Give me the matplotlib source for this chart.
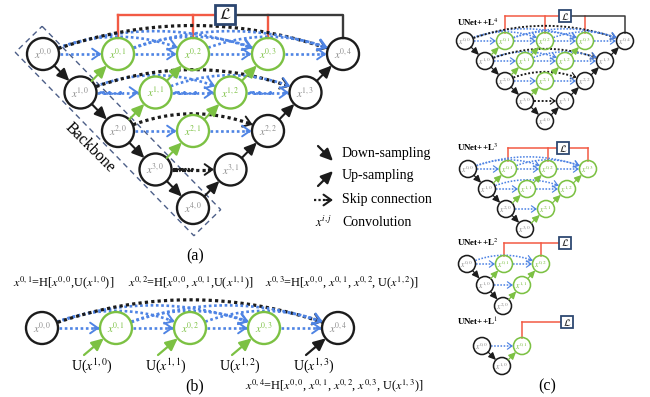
import matplotlib
matplotlib.use("Agg")
import matplotlib.pyplot as plt
from matplotlib.patches import Circle, Rectangle, Polygon, FancyArrowPatch
import numpy as np

plt.rcParams['font.family'] = ['Liberation Serif', 'DejaVu Serif']
plt.rcParams['mathtext.fontset'] = 'stix'

BLACK = '#1c1c1c'
GREEN = '#7cc143'
BLUE = '#4f84e4'
RED = '#f25a44'
NAVY = '#2c4670'
GREY = '#8c8c8c'
DARK = '#3a3a3a'

# ---- data ----
mini_depths = [4, 3, 2, 1]
mini_titles = ['UNet++L$^4$', 'UNet++L$^3$', 'UNet++L$^2$', 'UNet++L$^1$']
legend_labels = ['Down-sampling', 'Up-sampling', 'Skip connection', 'Convolution']
eq_top = [r'$x^{0,1}$=H[$x^{0,0}$,U($x^{1,0}$)]',
          r'$x^{0,2}$=H[$x^{0,0}$, $x^{0,1}$,U($x^{1,1}$)]',
          r'$x^{0,3}$=H[$x^{0,0}$, $x^{0,1}$, $x^{0,2}$, U($x^{1,2}$)]']
eq_bottom = r'$x^{0,4}$=H[$x^{0,0}$, $x^{0,1}$, $x^{0,2}$, $x^{0,3}$, U($x^{1,3}$)]'
u_labels = [r'U($x^{1,0}$)', r'U($x^{1,1}$)', r'U($x^{1,2}$)', r'U($x^{1,3}$)']
panel_labels = ['(a)', '(b)', '(c)']

# layouts (pixel space)
main = dict(x0=43, y0=54, dxi=37.5, dxj=75, dy=38.5, r=16, box_j=2.43, box_y=14.5,
            box_w=20, box_h=19, s=1.0, fs=8)
minis = [dict(x0=465, y0=41, dxi=20, dxj=40, dy=20, r=8.5, box_j=2.5, box_y=16, box_w=12, box_h=12, s=0.6, fs=5.5),
         dict(x0=468, y0=169, dxi=19, dxj=40, dy=20, r=8.5, box_j=2.38, box_y=148, box_w=12, box_h=12, s=0.6, fs=5.5),
         dict(x0=467, y0=264, dxi=18, dxj=37, dy=21, r=8.5, box_j=2.65, box_y=243, box_w=12, box_h=12, s=0.6, fs=5.5),
         dict(x0=482, y0=346, dxi=20, dxj=40, dy=20, r=8.5, box_j=2.12, box_y=322, box_w=12, box_h=12, s=0.6, fs=5.5)]
mini_title_y = [22, 147, 242, 322]
row_b = dict(x0=42, y0=328, dxi=0, dxj=74, dy=0, r=16, s=1.0, fs=8)


def pos(lay, i, j):
    return np.array([lay['x0'] + i * lay['dxi'] + j * lay['dxj'], lay['y0'] + i * lay['dy']])


def skip(ax, p0, p2, r, h, color, lw, s):
    p0 = np.asarray(p0, float)
    p2 = np.asarray(p2, float)
    d = p2 - p0
    L = np.hypot(*d)
    n = np.array([d[1], -d[0]]) / L
    c = (p0 + p2) / 2 + n * 2 * h
    t = np.linspace(0, 1, 600)[:, None]
    pts = (1 - t) ** 2 * p0 + 2 * (1 - t) * t * c + t ** 2 * p2
    da = np.hypot(*(pts - p0).T)
    db = np.hypot(*(pts - p2).T)
    pts = pts[(da > r + 0.5) & (db > r + 0.5)]
    ax.plot(pts[:, 0], pts[:, 1], color=color, lw=lw, ls=(0, (1, 1)), zorder=2)
    end = pts[-1]
    idx = np.where(np.hypot(*(pts - end).T) >= 5 * s)[0][-1]
    ax.add_patch(FancyArrowPatch(pts[idx], end, arrowstyle='->,head_length=0.5,head_width=0.35',
                                 mutation_scale=11 * s, lw=1.4 * s, color=color,
                                 shrinkA=0, shrinkB=0, zorder=3))


def solid(ax, a, b, color, lw, ms):
    ax.add_patch(FancyArrowPatch(a, b, arrowstyle='-|>,head_length=0.6,head_width=0.28',
                                 mutation_scale=ms, lw=lw, color=color,
                                 shrinkA=0, shrinkB=0, zorder=3))


def node(ax, p, lay, green, i, j):
    s = lay['s']
    ax.add_patch(Circle(p, lay['r'], facecolor='none', edgecolor=GREEN if green else BLACK,
                        lw=1.4 * s + 0.3, zorder=2))
    ax.text(p[0], p[1], '$x^{%d,%d}$' % (i, j), ha='center', va='center',
            color=GREEN if green else GREY, fontsize=lay['fs'], zorder=4)


def unet(ax, lay, depth, full, rows=None):
    r, s = lay['r'], lay['s']
    rows = range(depth + 1) if rows is None else rows
    green = lambda i, j: j > 0 and not (full and i + j == depth)
    # skip connections
    for i in rows:
        for j in range(1, depth - i + 1):
            for k in range(j):
                black = full and k == 0 and j == depth - i
                L = (j - k) * lay['dxj']
                h = 0 if j - k == 1 else 0.375 * r + 0.075 * L
                skip(ax, pos(lay, i, k), pos(lay, i, j), r, h, BLACK if black else BLUE,
                     (2.3 if black else 1.9) * s, s)
    # down / up sampling
    for i in rows:
        if i < depth and len(rows) > 1:
            a, b = pos(lay, i, 0), pos(lay, i + 1, 0)
            u = (b - a) / np.hypot(*(b - a))
            solid(ax, a + u * r, b - u * r, BLACK, 1.5 * s, 12 * s)
        for j in range(1, depth - i + 1):
            if len(rows) > 1:
                a, b = pos(lay, i + 1, j - 1), pos(lay, i, j)
                u = (b - a) / np.hypot(*(b - a))
                solid(ax, a + u * r, b - u * r, GREEN if green(i, j) else BLACK, 1.5 * s, 12 * s)
    for i in rows:
        for j in range(depth - i + 1):
            node(ax, pos(lay, i, j), lay, green(i, j), i, j)


def supervision(ax, lay, depth, full):
    r, s = lay['r'], lay['s']
    by = lay['box_y']
    top = lay['y0'] - r
    bx = lay['x0'] + lay['box_j'] * lay['dxj']
    bw, bh = lay['box_w'], lay['box_h']
    x1 = pos(lay, 0, 1)[0]
    xl = pos(lay, 0, depth)[0]
    for j in range(1, depth if full else depth + 1):
        xj = pos(lay, 0, j)[0]
        ax.plot([xj, xj], [by, top], color=RED, lw=1.5 * s + 0.2, zorder=1)
    ax.plot([x1, bx - bw / 2], [by, by], color=RED, lw=1.5 * s + 0.2, zorder=1)
    if full:
        ax.plot([bx + bw / 2, xl, xl], [by, by, top], color=DARK, lw=1.5 * s + 0.2, zorder=1)
    elif xl > bx:
        ax.plot([bx + bw / 2, xl], [by, by], color=RED, lw=1.5 * s + 0.2, zorder=1)
    ax.add_patch(Rectangle((bx - bw / 2, by - bh / 2), bw, bh, facecolor='white',
                           edgecolor=NAVY, lw=1.8 * s + 0.2, zorder=5))
    ax.text(bx, by, r'$\mathcal{L}$', ha='center', va='center', fontsize=11 * s + 0.5,
            color=BLACK, zorder=6)


fig = plt.figure(figsize=(6.5, 3.97), dpi=100)
ax = fig.add_axes([0, 0, 1, 1])
ax.set_xlim(0, 650)
ax.set_ylim(397, 0)
ax.axis('off')

# ---- panel (a) ----
supervision(ax, main, 4, True)
unet(ax, main, 4, True)
p0, p4 = pos(main, 0, 0), pos(main, 4, 0)
u = (p4 - p0) / np.hypot(*(p4 - p0))
nrm = np.array([u[1], -u[0]])
a, b = p0 - u * 20.5, p4 + u * 20.5
ax.add_patch(Polygon([a + nrm * 18.7, b + nrm * 18.7, b - nrm * 18.7, a - nrm * 18.7],
                     closed=True, fill=False, ls=(0, (4, 3)), lw=1.0, edgecolor='#4d5f88', zorder=1))
ax.text(90, 148, 'Backbone', rotation=-45, ha='center', va='center', fontsize=11.5)

# legend
lx = 342
legend_y = [154, 176, 200, 222]
solid(ax, (318, 146), (333, 161), BLACK, 1.6, 12)
solid(ax, (318, 186), (333, 171), BLACK, 1.6, 12)
ax.plot([314, 328], [200, 200], color=BLACK, lw=1.6, ls=(0, (1, 1)))
ax.add_patch(FancyArrowPatch((326, 200), (333, 200), arrowstyle='->,head_length=0.5,head_width=0.35',
                             mutation_scale=11, lw=1.5, color=BLACK, shrinkA=0, shrinkB=0))
ax.text(324, 222, '$x^{i,j}$', ha='center', va='center', fontsize=9)
for y, lab in zip(legend_y, legend_labels):
    ax.text(lx, y, lab, ha='left', va='center', fontsize=10)

ax.text(195, 256, panel_labels[0], ha='center', va='center', fontsize=11.5)

# ---- panel (b) ----
for k, eq in enumerate(eq_top):
    ax.text([13, 128, 265][k], 283, eq, ha='left', va='center', fontsize=8.8)
unet(ax, row_b, 4, True, rows=[0])
for j in range(1, 5):
    c = pos(row_b, 0, j)
    st = c + np.array([-32, 27])
    u = (st - c) / np.hypot(*(st - c))
    solid(ax, st, c + u * row_b['r'], GREEN if j < 4 else BLACK, 1.6, 12)
    ax.text(c[0] - 24, 366, u_labels[j - 1], ha='center', va='center', fontsize=10)
ax.text(195, 386, panel_labels[1], ha='center', va='center', fontsize=11.5)
ax.text(245, 386, eq_bottom, ha='left', va='center', fontsize=8.8)

# ---- panel (c) ----
for lay, d, title, ty in zip(minis, mini_depths, mini_titles, mini_title_y):
    full = d == 4
    supervision(ax, lay, d, full)
    unet(ax, lay, d, full)
    ax.text(457, ty, title, ha='left', va='center', fontsize=6.5, fontweight='bold')
ax.text(547, 386, panel_labels[2], ha='center', va='center', fontsize=11.5)

fig.savefig('out.png', dpi=100)
